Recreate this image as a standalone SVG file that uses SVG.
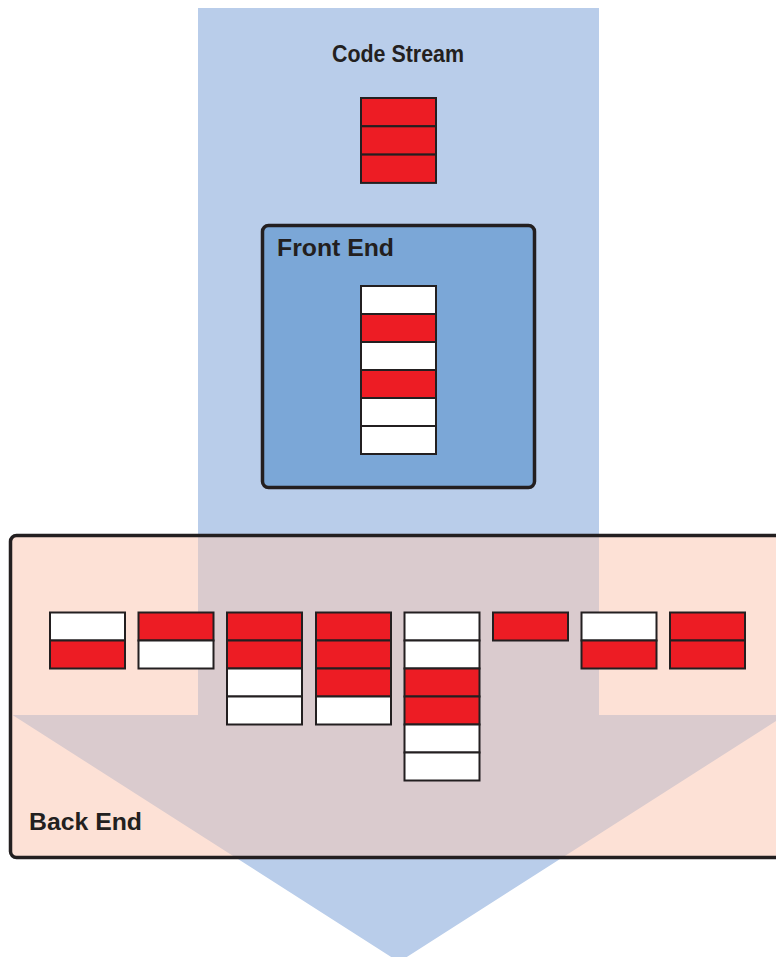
<svg xmlns="http://www.w3.org/2000/svg" width="776" height="957" viewBox="0 0 776 957">
<defs>
<style>
.r{fill:#ED1C24;stroke:#231F20;stroke-width:2}
.w{fill:#FFFFFF;stroke:#231F20;stroke-width:2}
.lbl{font-family:"Liberation Sans",Arial,sans-serif;font-weight:bold;fill:#231F20}
</style>
<clipPath id="beclip"><rect x="10.5" y="535.5" width="800" height="322" rx="6"/></clipPath>
</defs>
<rect width="776" height="957" fill="#FFFFFF"/>
<g id="arrow">
<polygon points="198,8 599,8 599,715 785.5,715 399,962 12.5,715 198,715" fill="#B9CDEA"/>
</g>
<g id="code-stream">
<text class="lbl" x="398" y="62" font-size="24" text-anchor="middle" textLength="132" lengthAdjust="spacingAndGlyphs">Code Stream</text>
<rect class="r" x="361" y="98" width="75" height="28.3"/>
<rect class="r" x="361" y="126.3" width="75" height="28.3"/>
<rect class="r" x="361" y="154.6" width="75" height="28.3"/>
</g>
<g id="front-end">
<rect x="262.5" y="225.5" width="272" height="262" rx="6" fill="#7BA7D7" stroke="#231F20" stroke-width="3.5"/>
<text class="lbl" x="277" y="256" font-size="24.5" textLength="117" lengthAdjust="spacingAndGlyphs">Front End</text>
<rect class="w" x="361" y="286" width="75" height="28"/>
<rect class="r" x="361" y="314" width="75" height="28"/>
<rect class="w" x="361" y="342" width="75" height="28"/>
<rect class="r" x="361" y="370" width="75" height="28"/>
<rect class="w" x="361" y="398" width="75" height="28"/>
<rect class="w" x="361" y="426" width="75" height="28"/>
</g>
<g id="back-end">
<rect x="10.5" y="535.5" width="800" height="322" rx="6" fill="#FDE1D6"/>
<polygon clip-path="url(#beclip)" points="198,8 599,8 599,715 785.5,715 399,962 12.5,715 198,715" fill="#DACBCE"/>
<rect x="10.5" y="535.5" width="800" height="322" rx="6" fill="none" stroke="#231F20" stroke-width="3.5"/>
<text class="lbl" x="29" y="830" font-size="24.5" textLength="113" lengthAdjust="spacingAndGlyphs">Back End</text>
<g id="be-col1">
<rect class="w" x="50" y="612.5" width="75" height="28"/>
<rect class="r" x="50" y="640.5" width="75" height="28"/>
</g>
<g id="be-col2">
<rect class="r" x="138.5" y="612.5" width="75" height="28"/>
<rect class="w" x="138.5" y="640.5" width="75" height="28"/>
</g>
<g id="be-col3">
<rect class="r" x="227" y="612.5" width="75" height="28"/>
<rect class="r" x="227" y="640.5" width="75" height="28"/>
<rect class="w" x="227" y="668.5" width="75" height="28"/>
<rect class="w" x="227" y="696.5" width="75" height="28"/>
</g>
<g id="be-col4">
<rect class="r" x="316" y="612.5" width="75" height="28"/>
<rect class="r" x="316" y="640.5" width="75" height="28"/>
<rect class="r" x="316" y="668.5" width="75" height="28"/>
<rect class="w" x="316" y="696.5" width="75" height="28"/>
</g>
<g id="be-col5">
<rect class="w" x="404.5" y="612.5" width="75" height="28"/>
<rect class="w" x="404.5" y="640.5" width="75" height="28"/>
<rect class="r" x="404.5" y="668.5" width="75" height="28"/>
<rect class="r" x="404.5" y="696.5" width="75" height="28"/>
<rect class="w" x="404.5" y="724.5" width="75" height="28"/>
<rect class="w" x="404.5" y="752.5" width="75" height="28"/>
</g>
<g id="be-col6">
<rect class="r" x="493" y="612.5" width="75" height="28"/>
</g>
<g id="be-col7">
<rect class="w" x="581.5" y="612.5" width="75" height="28"/>
<rect class="r" x="581.5" y="640.5" width="75" height="28"/>
</g>
<g id="be-col8">
<rect class="r" x="670" y="612.5" width="75" height="28"/>
<rect class="r" x="670" y="640.5" width="75" height="28"/>
</g>
</g>
</svg>
